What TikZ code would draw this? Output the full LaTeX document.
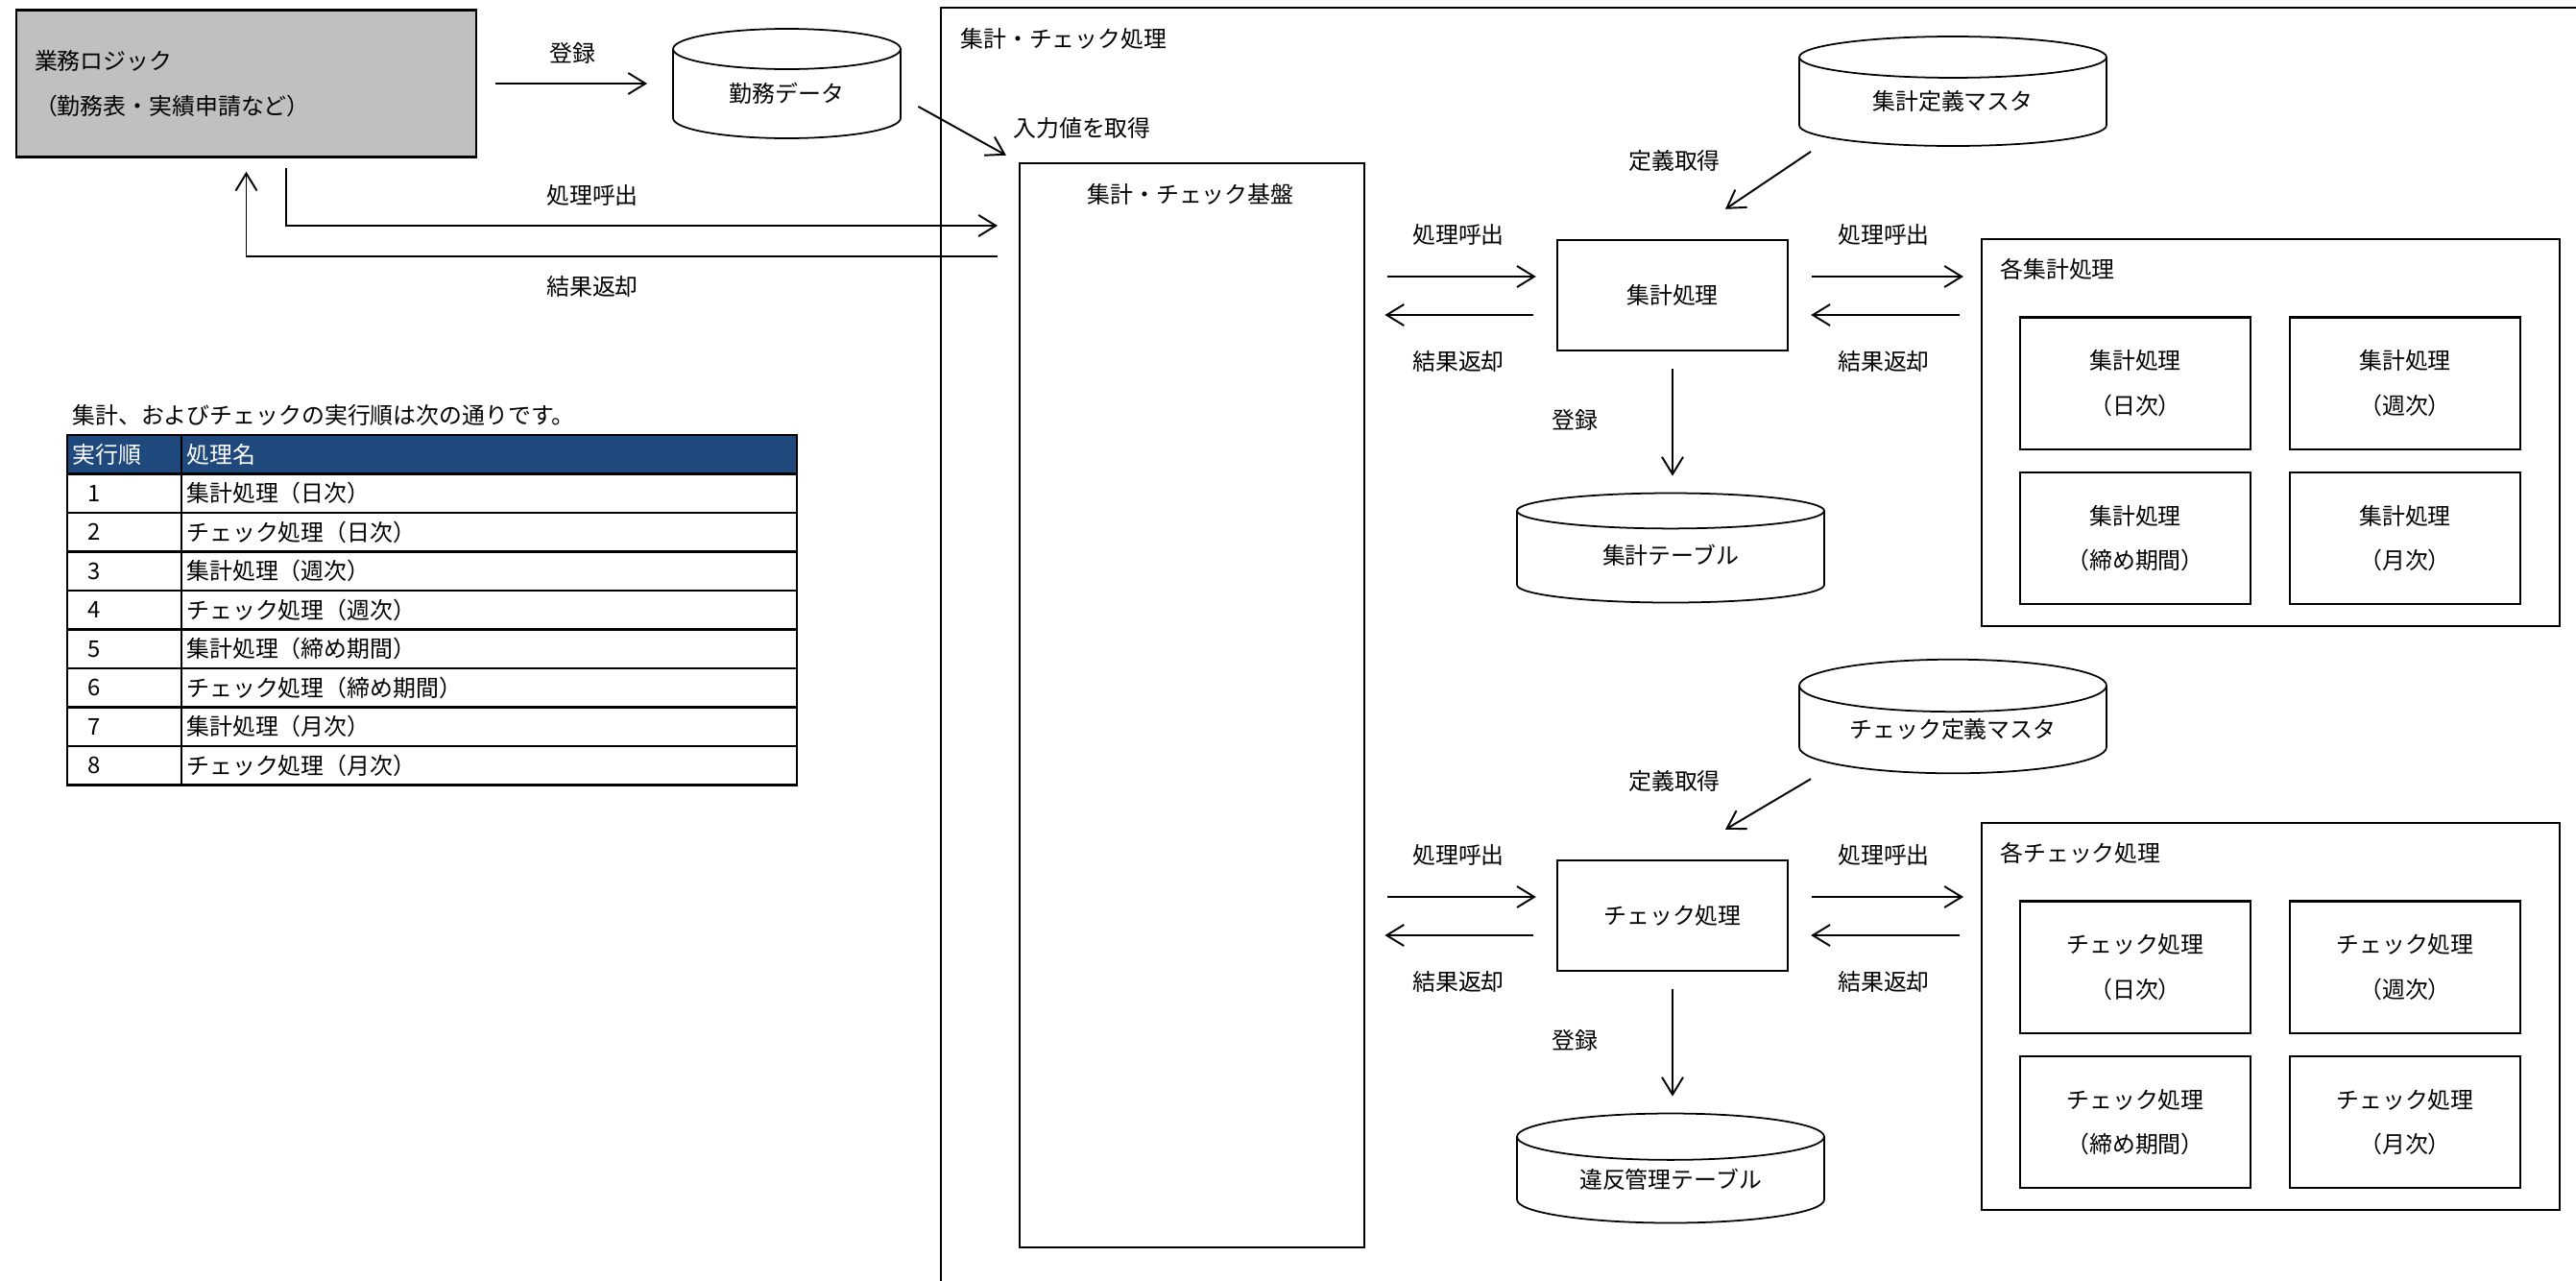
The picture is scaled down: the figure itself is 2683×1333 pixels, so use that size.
\documentclass[tikz,border=0pt]{standalone}
\usepackage{color}
\usepackage{fontspec}
\setmainfont{Noto Sans CJK JP}
\usetikzlibrary{shapes.geometric,arrows.meta}

\definecolor{logicgray}{RGB}{192,192,192}
\definecolor{headblue}{RGB}{31,73,125}

\tikzset{
	every node/.style={font=\fontsize{13.6}{16}\selectfont},
	twoline/.style={align=center,font=\fontsize{13.6}{26.6}\selectfont},
	procbox/.style={draw,line width=1.4pt,minimum width=4.8cm,minimum height=2.3cm},
	subbox/.style={draw,line width=1.4pt,minimum width=4.8cm,minimum height=2.75cm,twoline},
	groupbox/.style={draw,line width=1.4pt,minimum width=12.04cm,minimum height=8.06cm,anchor=north west},
	dbcyl/.style={cylinder,shape border rotate=90,draw,line width=1pt,minimum width=6.4cm,minimum height=2.28cm,aspect=0.24,anchor=shape center,text height=12pt,text depth=6pt},
	arr/.style={-{Straight Barb[length=3.6mm,width=4.4mm]},line width=1.1pt},
	lbl/.style={inner sep=0pt},
	cell/.style={draw,line width=1.4pt},
}

\begin{document}
\begin{tikzpicture}[x=0.02cm,y=-0.02cm]
	\useasboundingbox (0,0) rectangle (2683,1333);

	\node[draw,fill=logicgray,line width=1.4pt,minimum width=9.58cm,minimum height=3.06cm,text width=8.82cm,twoline,align=left] (logic) at (256.5,87) {業務ロジック\\（勤務表・実績申請など）};
	\node[dbcyl,minimum width=4.74cm,aspect=0.32] (kinmu) at (819.5,87) {勤務データ};
	\node[lbl] (kinmulbl) at (596,55) {登録};
	\draw[arr,shorten <=0.38cm,shorten >=0.52cm] (logic.east) -- (logic.east -| kinmu.west);

	\draw[line width=1.4pt] (980,1345) -- (980,8) -- (2695,8);
	\node[lbl,anchor=west] (frametitle) at (1000,40) {集計・チェック処理};
	\node[draw,line width=1.4pt,minimum width=7.18cm,minimum height=22.58cm,anchor=north west] (base) at (1061,169) {};
	\node[lbl] (basetitle) at (1240,202) {集計・チェック基盤};
	\node[lbl,anchor=west] (inputlbl) at (1055,133) {入力値を取得};
	\draw[arr,shorten <=0.4cm,shorten >=0.3cm] (kinmu.east) -- (base.north west);

	\draw[arr] ([xshift=0.83cm,yshift=-0.2cm]logic.south) |- ([xshift=-0.44cm,yshift=-1.32cm]base.north west);
	\draw[arr] ([xshift=-0.44cm,yshift=-1.96cm]base.north west) -| ([yshift=-0.28cm]logic.south);
	\node[lbl] (calllbl) at (617,203) {処理呼出};
	\node[lbl] (retlbl) at (617,298) {結果返却};

	\foreach \tag/\kind/\tname/\py/\my/\gy in {sum/集計/集計テーブル/307.5/95/248, chk/チェック/違反管理テーブル/953.5/746/856} {
		\pgfmathsetmacro{\ty}{\py+263}
		\node[procbox] (\tag-proc) at (1742,\py) {\kind 処理};
		\node[dbcyl] (\tag-master) at (2034,\my) {\kind 定義マスタ};
		\node[dbcyl] (\tag-table) at (1740,\ty) {\tname};
		\node[groupbox] (\tag-group) at (2063,\gy) {};
		\node[lbl,anchor=west] (\tag-grouplbl) at (2083,\gy+32) {各\kind 処理};
		\node[lbl] (\tag-deflbl) at (1744,\py-140) {定義取得};
		\node[lbl] (\tag-calllbl) at (1519,\py-63) {処理呼出};
		\node[lbl] (\tag-retlbl) at (1519,\py+69) {結果返却};
		\node[lbl] (\tag-subcalllbl) at (1962,\py-63) {処理呼出};
		\node[lbl] (\tag-subretlbl) at (1962,\py+69) {結果返却};
		\node[lbl] (\tag-reglbl) at (1640,\py+130) {登録};
		\draw[arr] ([xshift=-2.96cm,yshift=-0.1cm]\tag-master.south) -- ([xshift=1.1cm,yshift=0.62cm]\tag-proc.north);
		\draw[arr,shorten <=0.46cm,shorten >=0.42cm] ([yshift=0.39cm]base.east |- \tag-proc.west) -- ([yshift=0.39cm]\tag-proc.west);
		\draw[arr,shorten <=0.48cm,shorten >=0.4cm] ([yshift=-0.41cm]\tag-proc.west) -- ([yshift=-0.41cm]base.east |- \tag-proc.west);
		\draw[arr,shorten <=0.48cm,shorten >=0.36cm] ([yshift=0.39cm]\tag-proc.east) -- ([yshift=0.39cm]\tag-proc.east -| \tag-group.west);
		\draw[arr,shorten <=0.44cm,shorten >=0.46cm] ([yshift=-0.41cm]\tag-proc.east -| \tag-group.west) -- ([yshift=-0.41cm]\tag-proc.east);
		\draw[arr,shorten <=0.36cm,shorten >=0.34cm] (\tag-proc.south) -- (\tag-proc.south |- \tag-table.north);
		\foreach \col/\row/\period in {0/0/日次,1/0/週次,0/1/締め期間,1/1/月次} {
			\node[subbox] (\tag-sub\col\row) at (2224+281*\col,\gy+151+161.5*\row) {\kind 処理\\（\period）};
		}
	}

	\node[lbl,anchor=west] (caption) at (75,432) {集計、およびチェックの実行順は次の通りです。};
	\draw[cell,fill=headblue] (70,453) rectangle (830,493.5);
	\draw[cell] (189,453) -- (189,493.5);
	\node[lbl,anchor=west,text=white] (headno) at (75,473) {実行順};
	\node[lbl,anchor=west,text=white] (headname) at (194,473) {処理名};
	\foreach \n/\procname in {1/集計処理（日次）,2/チェック処理（日次）,3/集計処理（週次）,4/チェック処理（週次）,5/集計処理（締め期間）,6/チェック処理（締め期間）,7/集計処理（月次）,8/チェック処理（月次）} {
		\pgfmathsetmacro{\rowtop}{453+40.5*\n}
		\draw[cell] (70,\rowtop) rectangle (830,\rowtop+40.5);
		\draw[cell] (189,\rowtop) -- (189,\rowtop+40.5);
		\node[lbl] (no\n) at (98,\rowtop+20.25) {\n};
		\node[lbl,anchor=west] (name\n) at (194,\rowtop+20.25) {\procname};
	}
\end{tikzpicture}
\end{document}
